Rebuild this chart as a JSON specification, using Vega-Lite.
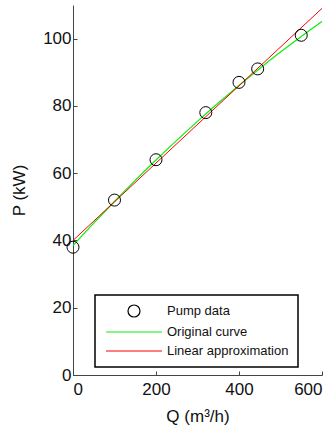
{
  "$schema": "https://vega.github.io/schema/vega-lite/v6.json",
  "width": 249,
  "height": 370,
  "autosize": {"type": "none"},
  "padding": {"left": 73, "top": 5, "right": 14, "bottom": 59},
  "background": "white",
  "config": {
    "view": {"stroke": null},
    "font": "Liberation Sans",
    "axis": {
      "domainColor": "#444444",
      "tickColor": "#444444",
      "tickSize": -4,
      "grid": false,
      "labelFont": "Liberation Sans",
      "labelFontSize": 17,
      "labelColor": "#111111",
      "titleFont": "Liberation Sans",
      "titleFontSize": 17,
      "titleFontWeight": "normal",
      "titleColor": "#111111"
    }
  },
  "data": {
    "values": [
      {"series": "Original curve", "Q": 0, "P": 38.5},
      {"series": "Original curve", "Q": 50, "P": 45.15},
      {"series": "Original curve", "Q": 100, "P": 51.6},
      {"series": "Original curve", "Q": 150, "P": 57.85},
      {"series": "Original curve", "Q": 200, "P": 63.9},
      {"series": "Original curve", "Q": 250, "P": 69.75},
      {"series": "Original curve", "Q": 300, "P": 75.4},
      {"series": "Original curve", "Q": 350, "P": 80.85},
      {"series": "Original curve", "Q": 400, "P": 86.1},
      {"series": "Original curve", "Q": 450, "P": 91.15},
      {"series": "Original curve", "Q": 500, "P": 96.0},
      {"series": "Original curve", "Q": 550, "P": 100.65},
      {"series": "Original curve", "Q": 600, "P": 105.1},
      {"series": "Linear approximation", "Q": 0, "P": 40},
      {"series": "Linear approximation", "Q": 600, "P": 109},
      {"series": "Pump data", "Q": 0, "P": 38},
      {"series": "Pump data", "Q": 100, "P": 52},
      {"series": "Pump data", "Q": 200, "P": 64},
      {"series": "Pump data", "Q": 320, "P": 78},
      {"series": "Pump data", "Q": 400, "P": 87},
      {"series": "Pump data", "Q": 445, "P": 91},
      {"series": "Pump data", "Q": 550, "P": 101}
    ]
  },
  "encoding": {
    "x": {
      "field": "Q", "type": "quantitative",
      "scale": {"domain": [0, 600], "nice": false, "zero": false},
      "axis": {"values": [0, 200, 400, 600], "title": "Q (m³/h)", "labelPadding": 10, "titlePadding": 11}
    },
    "y": {
      "field": "P", "type": "quantitative",
      "scale": {"domain": [0, 110], "nice": false, "zero": false},
      "axis": {"values": [0, 20, 40, 60, 80, 100], "title": "P (kW)", "labelPadding": 6, "titlePadding": 14}
    },
    "color": {
      "field": "series", "type": "nominal",
      "scale": {"domain": ["Pump data", "Original curve", "Linear approximation"], "range": ["#000000", "#11ee11", "#ff0000"]},
      "legend": {
        "title": null,
        "orient": "none",
        "legendX": 22,
        "legendY": 290,
        "direction": "vertical",
        "strokeColor": "#000000",
        "fillColor": "#ffffff",
        "padding": 9,
        "labelFont": "Liberation Sans",
        "labelFontSize": 13,
        "labelColor": "#111111",
        "labelOffset": 5,
        "rowPadding": 5,
        "symbolSize": 144,
        "symbolStrokeWidth": 1.2,
        "encode": {
          "legend": {"update": {"strokeWidth": {"value": 1.5}}},
          "symbols": {
            "update": {
              "shape": {"signal": "datum.value === 'Pump data' ? 'circle' : 'M-4.667,0H4.667'"},
              "fill": {"value": "transparent"},
              "x": {"value": 30}
            }
          },
          "labels": {
            "update": {
              "x": {"value": 63}
            }
          }
        }
      }
    }
  },
  "layer": [
    {
      "transform": [{"filter": "datum.series === 'Original curve'"}],
      "mark": {"type": "line", "strokeWidth": 1.3, "interpolate": "monotone"}
    },
    {
      "transform": [{"filter": "datum.series === 'Linear approximation'"}],
      "mark": {"type": "line", "strokeWidth": 1}
    },
    {
      "transform": [{"filter": "datum.series === 'Pump data'"}],
      "mark": {"type": "point", "shape": "circle", "filled": false, "size": 144, "strokeWidth": 1, "opacity": 1}
    }
  ]
}
